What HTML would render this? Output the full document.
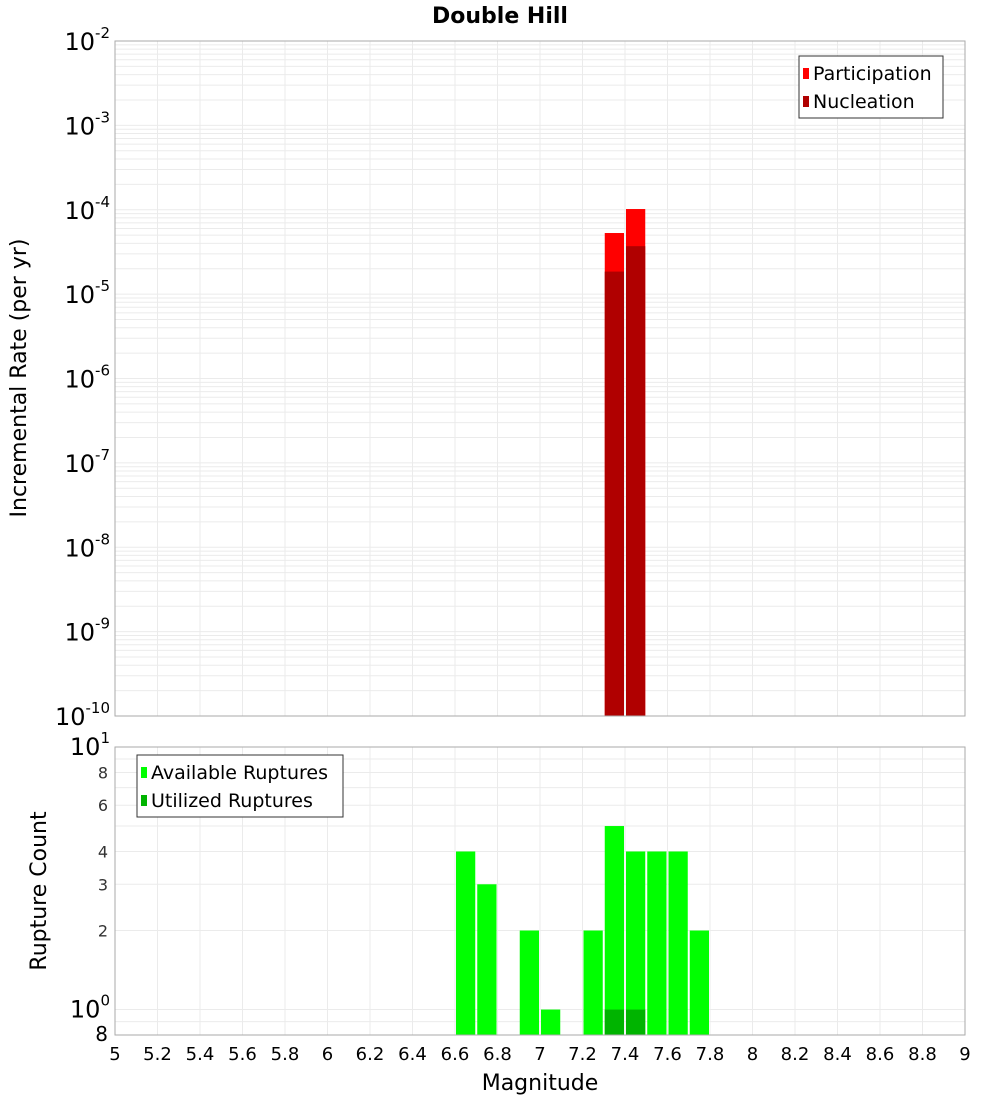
<!DOCTYPE html>
<html><head><meta charset="utf-8"><style>
body{margin:0;background:#fff;font-family:"DejaVu Sans","Liberation Sans",sans-serif}
</style></head><body>
<svg id="c" width="1000" height="1100" xmlns="http://www.w3.org/2000/svg"></svg>
<script>
const binCenters=[6.65,6.75,6.95,7.05,7.25,7.35,7.45,7.55,7.65,7.75];
const availableCounts=[4,3,2,1,2,5,4,4,4,2];
const utilizedCenters=[7.35,7.45];
const utilizedCounts=[1,1];
const rateCenters=[7.35,7.45];
const participationRates=[5.3e-5,1.02e-4];
const nucleationRates=[1.85e-5,3.7e-5];
const xTicks=[5,5.2,5.4,5.6,5.8,6,6.2,6.4,6.6,6.8,7,7.2,7.4,7.6,7.8,8,8.2,8.4,8.6,8.8,9];
const topExps=[-2,-3,-4,-5,-6,-7,-8,-9,-10];
const botTicks=[8,6,4,3,2];

const NS="http://www.w3.org/2000/svg";
const svg=document.getElementById('c');
function el(t,a,p){const e=document.createElementNS(NS,t);for(const k in a)e.setAttribute(k,a[k]);(p||svg).appendChild(e);return e;}
const X0=115,X1=965;
const x=v=>X0+(v-5)/4*(X1-X0);
const T0=41,T1=716;
const yT=v=>T0+(-2-Math.log10(v))/8*(T1-T0);
const B0=747,B1=1035;
const yB=v=>B0+(1-Math.log10(v))/(1-Math.log10(0.8))*(B1-B0);

// title
let t=el('text',{x:500,y:23,'text-anchor':'middle','font-size':22,'font-weight':'bold'});t.textContent='Double Hill';


// grids
const gT=el('g',{stroke:'#ebebeb','stroke-width':1});

const gB=el('g',{stroke:'#ebebeb','stroke-width':1});

xTicks.forEach(v=>{el('line',{x1:x(v),x2:x(v),y1:T0,y2:T1},gT);el('line',{x1:x(v),x2:x(v),y1:B0,y2:B1},gB);});
for(let e=-10;e<-2;e++)for(let m=1;m<10;m++){const y=yT(m*Math.pow(10,e));el('line',{x1:X0,x2:X1,y1:y,y2:y},gT);}
for(let v=1;v<=10;v++){const y=yB(v);el('line',{x1:X0,x2:X1,y1:y,y2:y},gB);}
el('line',{x1:X0,x2:X1,y1:yB(0.9),y2:yB(0.9)},gB);

// top bars
const bw=(x(0.1)-x(0))-2;
rateCenters.forEach((c,i)=>{
 let r=el('rect',{x:x(c-0.05)+1,y:yT(participationRates[i]),width:bw,height:T1-yT(participationRates[i]),fill:'#ff0000'});
 
 r=el('rect',{x:x(c-0.05)+1,y:yT(nucleationRates[i]),width:bw,height:T1-yT(nucleationRates[i]),fill:'#b00000'});
 
});
// bottom bars
binCenters.forEach((c,i)=>{
 const r=el('rect',{x:x(c-0.05)+1,y:yB(availableCounts[i]),width:bw,height:B1-yB(availableCounts[i]),fill:'#00ff00'});
 
});
utilizedCenters.forEach((c,i)=>{
 const r=el('rect',{x:x(c-0.05)+1,y:yB(utilizedCounts[i]),width:bw,height:B1-yB(utilizedCounts[i]),fill:'#00b400'});
 
});

// frames
let f=el('rect',{x:X0,y:T0,width:X1-X0,height:T1-T0,fill:'none',stroke:'#aaa'});

f=el('rect',{x:X0,y:B0,width:X1-X0,height:B1-B0,fill:'none',stroke:'#aaa'});


// top y ticks
topExps.forEach(e=>{
 const tt=el('text',{x:110,y:yT(Math.pow(10,e))+9,'text-anchor':'end','font-size':24});
 
 tt.textContent='10';
 const s=el('tspan',{'font-size':15,dy:-12},tt);s.textContent=String(e);
});
// bottom y ticks
let bt=el('text',{x:110,y:yB(10)+8,'text-anchor':'end','font-size':24});bt.textContent='10';

el('tspan',{'font-size':15,dy:-12},bt).textContent='1';
bt=el('text',{x:110,y:yB(1)+8,'text-anchor':'end','font-size':24});bt.textContent='10';

el('tspan',{'font-size':15,dy:-12},bt).textContent='0';
botTicks.forEach(v=>{
 const tt=el('text',{x:108,y:yB(v)+6,'text-anchor':'end','font-size':16,fill:'#333'});tt.textContent=String(v);
 
});
bt=el('text',{x:108,y:yB(0.8)+6,'text-anchor':'end','font-size':20});bt.textContent='8';


// x ticks
xTicks.forEach(v=>{
 const tt=el('text',{x:x(v),y:1060,'text-anchor':'middle','font-size':18});tt.textContent=String(v);
 
});
t=el('text',{x:540,y:1090,'text-anchor':'middle','font-size':22});t.textContent='Magnitude';

t=el('text',{x:0,y:0,'text-anchor':'middle','font-size':22,transform:'translate(26,378) rotate(-90)'});t.textContent='Incremental Rate (per yr)';

t=el('text',{x:0,y:0,'text-anchor':'middle','font-size':22,transform:'translate(46,891) rotate(-90)'});t.textContent='Rupture Count';


// legends
function legend(x0,y0,w,items,name){
 const g=el('g',{});
 el('rect',{x:x0,y:y0,width:w,height:62,fill:'#fff',stroke:'#333'},g);
 items.forEach((it,i)=>{
  const r=el('rect',{x:x0+4,y:y0+12+i*28,width:6,height:11,fill:it[1]},g);
  
  const tx=el('text',{x:x0+14,y:y0+24+i*28,'font-size':19},g);tx.textContent=it[0];
  
 });
}
legend(799,56,144,[['Participation','#ff0000'],['Nucleation','#b00000']],'top-legend');
legend(137,755,206,[['Available Ruptures','#00ff00'],['Utilized Ruptures','#00b400']],'bottom-legend');
</script>
</body></html>
